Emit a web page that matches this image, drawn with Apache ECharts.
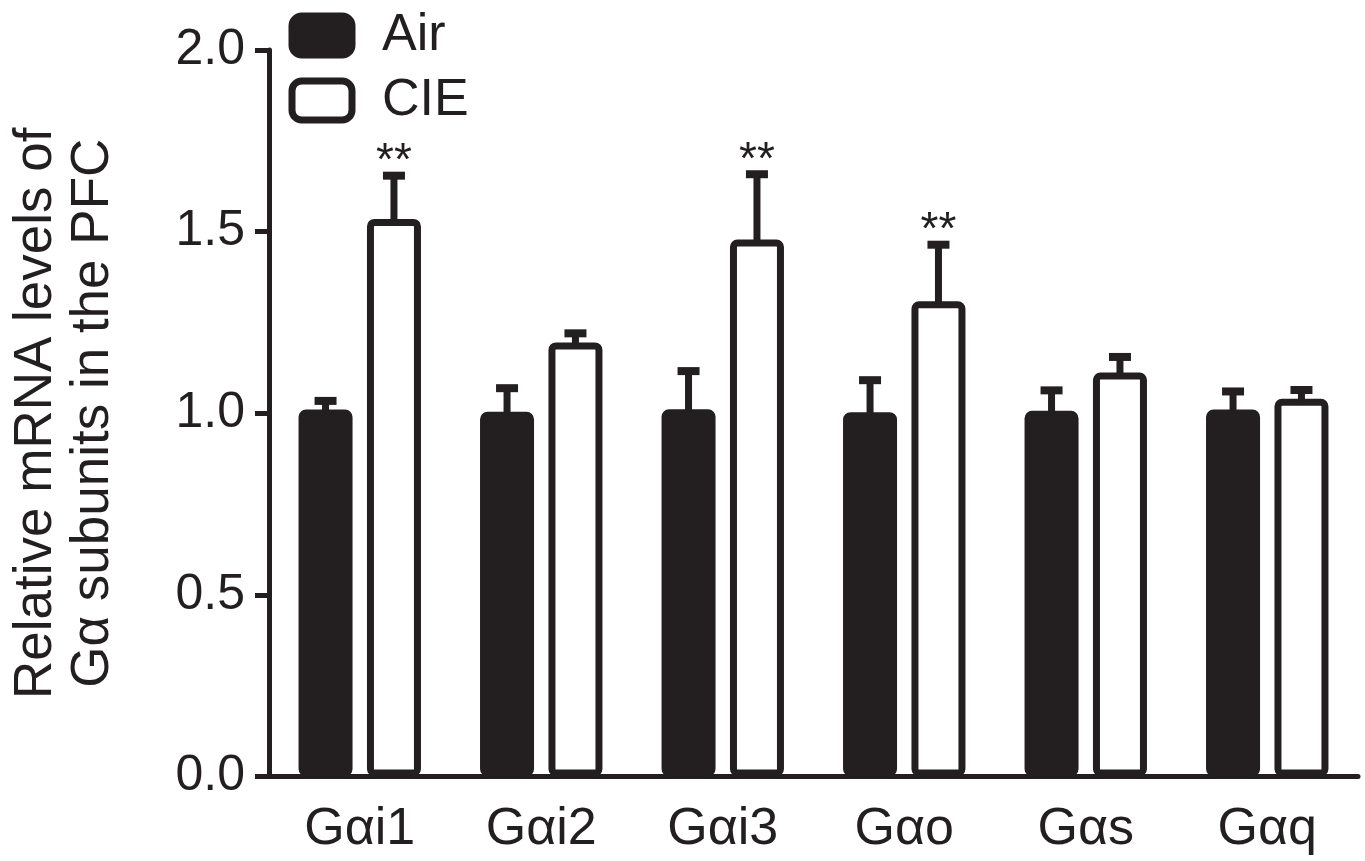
<!DOCTYPE html>
<html>
<head>
<meta charset="utf-8">
<script src="https://cdn.jsdelivr.net/npm/echarts@6/dist/echarts.min.js"></script>
<style>
html,body{margin:0;padding:0;background:#fff;}
#chart{width:1365px;height:861px;}
</style>
</head>
<body>
<div id="chart"></div>
<script>
// ---- data ----
const categories = ['Gαi1', 'Gαi2', 'Gαi3', 'Gαo', 'Gαs', 'Gαq'];
const seriesNames = ['Air', 'CIE'];
const airMean = [1.010, 1.004, 1.011, 1.003, 1.007, 1.010];
const airSem  = [0.024, 0.065, 0.105, 0.088, 0.056, 0.050];
const cieMean = [1.535, 1.195, 1.478, 1.308, 1.112, 1.040];
const cieSem  = [0.119, 0.025, 0.180, 0.156, 0.043, 0.024];
const cieSig  = ['**', '', '**', '**', '', ''];
const yTicks  = [0, 0.5, 1.0, 1.5, 2.0];

// ---- style ----
const INK = '#231f20';
const FONT = "'Liberation Sans', Arial, Helvetica, sans-serif";
const BAR_W = 54;
const BAR_GAP = 0.267;
const BORDER = 7;
const HALF_OFFSET = (BAR_W + BAR_W * BAR_GAP) / 2;

function errRender(offsetSign, sig) {
  return function (params, api) {
    const idx = api.value(0);
    const mean = api.value(1);
    const err = api.value(2);
    const base = api.coord([idx, mean]);
    const top = api.coord([idx, mean + err]);
    const cx = base[0] + offsetSign * HALF_OFFSET;
    const children = [
      { type: 'rect', shape: { x: cx - 3.5, y: top[1], width: 7, height: base[1] - top[1] + 2 }, style: { fill: INK } },
      { type: 'rect', shape: { x: cx - 11, y: top[1] - 4, width: 22, height: 8 }, style: { fill: INK } }
    ];
    if (sig && sig[params.dataIndex]) {
      children.push({
        type: 'text',
        style: {
          text: sig[params.dataIndex], x: cx, y: top[1] - 13,
          align: 'center', verticalAlign: 'middle',
          font: '46px ' + FONT, fill: INK
        }
      });
    }
    return { type: 'group', children: children };
  };
}

const chart = echarts.init(document.getElementById('chart'), null, { renderer: 'canvas' });
chart.setOption({
  animation: false,
  backgroundColor: '#fff',
  textStyle: { fontFamily: FONT, color: INK },
  grid: { left: 269, top: 50, right: 7, bottom: 84.5, containLabel: false },
  legend: {
    orient: 'vertical', left: 288.5, top: 9.5, padding: 0,
    itemWidth: 60, itemHeight: 39, itemGap: 13,
    icon: 'roundRect',
    textStyle: { fontSize: 52, color: INK, fontFamily: FONT, lineHeight: 39, padding: [0, 0, 0, 25] },
    data: [
      { name: seriesNames[0], itemStyle: { color: INK, borderColor: INK, borderWidth: BORDER } },
      { name: seriesNames[1], itemStyle: { color: '#fff', borderColor: INK, borderWidth: BORDER } }
    ]
  },
  xAxis: {
    type: 'category', data: categories,
    axisLine: { lineStyle: { color: INK, width: 5 } },
    axisTick: { show: false },
    axisLabel: { fontSize: 52, color: INK, fontFamily: FONT, margin: 27 },
    splitLine: { show: false }
  },
  yAxis: {
    type: 'value', min: yTicks[0], max: yTicks[yTicks.length - 1], interval: yTicks[1] - yTicks[0],
    axisLine: { show: true, lineStyle: { color: INK, width: 5 } },
    axisTick: { show: true, length: 14, lineStyle: { color: INK, width: 5 } },
    axisLabel: { fontSize: 50, color: INK, fontFamily: FONT, margin: 24, formatter: v => v.toFixed(1) },
    splitLine: { show: false },
    name: 'Relative mRNA levels of\nGα subunits in the PFC',
    nameLocation: 'middle', nameRotate: 90, nameGap: 147,
    nameTextStyle: { fontSize: 53, color: INK, fontFamily: FONT, lineHeight: 57 }
  },
  series: [
    {
      name: seriesNames[0], type: 'bar', data: airMean, barWidth: BAR_W, barGap: (BAR_GAP * 100) + '%',
      itemStyle: { color: INK, borderColor: INK, borderWidth: BORDER, borderRadius: 4 }, z: 2
    },
    {
      name: seriesNames[1], type: 'bar', data: cieMean, barWidth: BAR_W, barGap: (BAR_GAP * 100) + '%',
      itemStyle: { color: '#fff', borderColor: INK, borderWidth: BORDER, borderRadius: 4 }, z: 2
    },
    {
      type: 'custom', name: 'airErr', z: 3,
      renderItem: errRender(-1, null),
      data: airMean.map((m, i) => [i, m, airSem[i]])
    },
    {
      type: 'custom', name: 'cieErr', z: 3,
      renderItem: errRender(1, cieSig),
      data: cieMean.map((m, i) => [i, m, cieSem[i]])
    }
  ]
});
</script>
</body>
</html>
